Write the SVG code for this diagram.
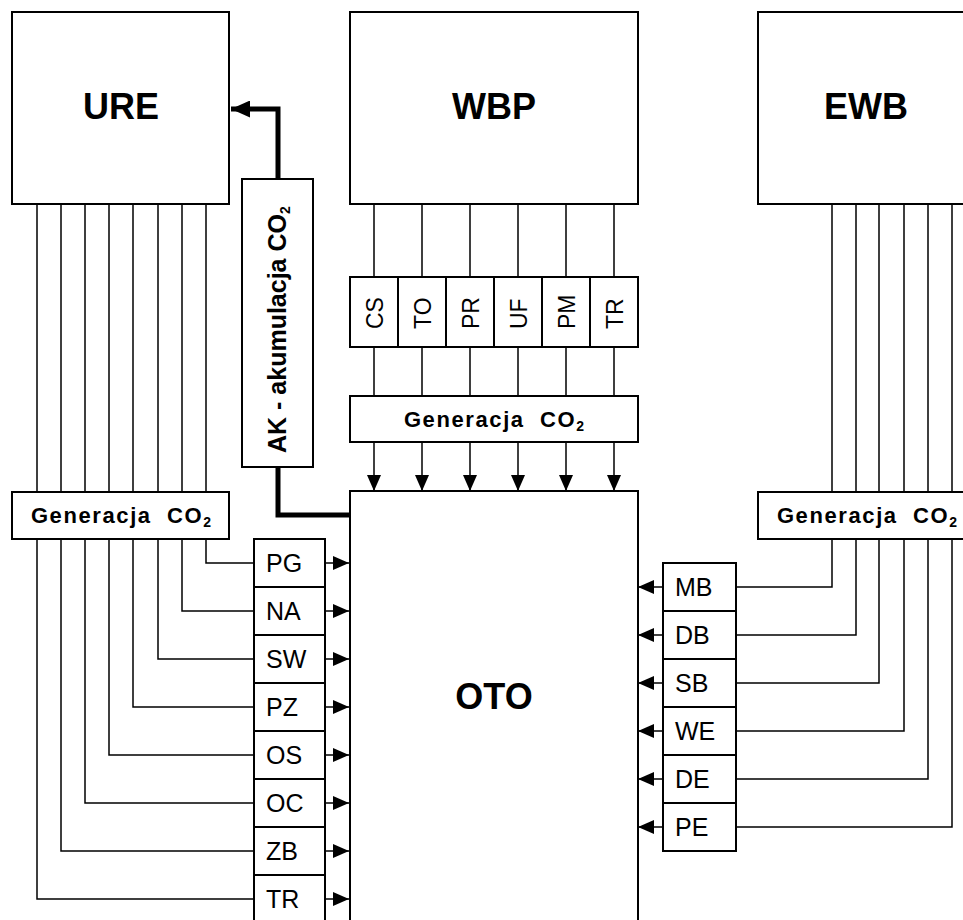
<svg xmlns="http://www.w3.org/2000/svg" width="963" height="920" viewBox="0 0 963 920">
<defs>
<style>
.box{fill:#fff;stroke:#000;stroke-width:2}
.ln{fill:none;stroke:#000;stroke-width:1.5}
.thick{fill:none;stroke:#000;stroke-width:5}
.big{font-family:"Liberation Sans",Arial,sans-serif;font-weight:bold;font-size:36px;text-anchor:middle}
.lbl{font-family:"Liberation Sans",Arial,sans-serif;font-size:25px}
.vl{font-family:"Liberation Sans",Arial,sans-serif;font-size:23px}
.gen{font-family:"Liberation Sans",Arial,sans-serif;font-weight:bold;font-size:22px;letter-spacing:1.6px;text-anchor:middle;white-space:pre}
.ak{font-family:"Liberation Sans",Arial,sans-serif;font-weight:bold;font-size:25px}
.sub{font-size:14px;letter-spacing:0}
</style>
<marker id="ah" markerUnits="userSpaceOnUse" markerWidth="16" markerHeight="14" refX="16" refY="7" orient="auto"><path d="M0,0 L16,7 L0,14 Z" fill="#000"/></marker>
<marker id="ahb" markerUnits="userSpaceOnUse" markerWidth="19" markerHeight="17" refX="19" refY="8.5" orient="auto"><path d="M0,0 L19,8.5 L0,17 Z" fill="#000"/></marker>
</defs>
<rect width="963" height="920" fill="#fff"/>

<g id="connectors">
<path class="ln" d="M37,204V492M61,204V492M85,204V492M109,204V492M133,204V492M158,204V492M182,204V492M206,204V492"/>
<path class="ln" d="M832,204V492M856,204V492M879,204V492M904,204V492M928,204V492M952,204V492"/>
<path class="ln" d="M374,204V277M422,204V277M470,204V277M518,204V277M566,204V277M614,204V277"/>
<path class="ln" d="M374,347V396M422,347V396M470,347V396M518,347V396M566,347V396M614,347V396"/>
<path class="ln" d="M374,442V491" marker-end="url(#ah)"/>
<path class="ln" d="M422,442V491" marker-end="url(#ah)"/>
<path class="ln" d="M470,442V491" marker-end="url(#ah)"/>
<path class="ln" d="M518,442V491" marker-end="url(#ah)"/>
<path class="ln" d="M566,442V491" marker-end="url(#ah)"/>
<path class="ln" d="M614,442V491" marker-end="url(#ah)"/>
<path class="ln" d="M206,539V563H254"/>
<path class="ln" d="M182,539V611H254"/>
<path class="ln" d="M158,539V659H254"/>
<path class="ln" d="M133,539V707H254"/>
<path class="ln" d="M109,539V755H254"/>
<path class="ln" d="M85,539V803H254"/>
<path class="ln" d="M61,539V851H254"/>
<path class="ln" d="M37,539V899H254"/>
<path class="ln" d="M325,563H349" marker-end="url(#ah)"/>
<path class="ln" d="M325,611H349" marker-end="url(#ah)"/>
<path class="ln" d="M325,659H349" marker-end="url(#ah)"/>
<path class="ln" d="M325,707H349" marker-end="url(#ah)"/>
<path class="ln" d="M325,755H349" marker-end="url(#ah)"/>
<path class="ln" d="M325,803H349" marker-end="url(#ah)"/>
<path class="ln" d="M325,851H349" marker-end="url(#ah)"/>
<path class="ln" d="M325,899H349" marker-end="url(#ah)"/>
<path class="ln" d="M832,539V587H736"/>
<path class="ln" d="M856,539V635H736"/>
<path class="ln" d="M879,539V683H736"/>
<path class="ln" d="M904,539V731H736"/>
<path class="ln" d="M928,539V779H736"/>
<path class="ln" d="M952,539V827H736"/>
<path class="ln" d="M663,587H638" marker-end="url(#ah)"/>
<path class="ln" d="M663,635H638" marker-end="url(#ah)"/>
<path class="ln" d="M663,683H638" marker-end="url(#ah)"/>
<path class="ln" d="M663,731H638" marker-end="url(#ah)"/>
<path class="ln" d="M663,779H638" marker-end="url(#ah)"/>
<path class="ln" d="M663,827H638" marker-end="url(#ah)"/>
<path class="thick" d="M349,515H278V467"/>
<path class="thick" d="M278,179V109H231" marker-end="url(#ahb)"/>
</g>

<g id="URE"><rect class="box" x="12" y="12" width="217" height="192"/><text class="big" x="121" y="119">URE</text></g>
<g id="WBP"><rect class="box" x="350" y="12" width="288" height="192"/><text class="big" x="494" y="119">WBP</text></g>
<g id="EWB"><rect class="box" x="758" y="12" width="217" height="192"/><text class="big" x="866" y="119">EWB</text></g>

<g id="wbp-items">
<rect class="box" x="350" y="277" width="48" height="70"/>
<rect class="box" x="398" y="277" width="48" height="70"/>
<rect class="box" x="446" y="277" width="48" height="70"/>
<rect class="box" x="494" y="277" width="48" height="70"/>
<rect class="box" x="542" y="277" width="48" height="70"/>
<rect class="box" x="590" y="277" width="48" height="70"/>
<text class="vl" transform="translate(383,329) rotate(-90)">CS</text>
<text class="vl" transform="translate(431,329) rotate(-90)">TO</text>
<text class="vl" transform="translate(479,329) rotate(-90)">PR</text>
<text class="vl" transform="translate(527,329) rotate(-90)">UF</text>
<text class="vl" transform="translate(575,329) rotate(-90)">PM</text>
<text class="vl" transform="translate(623,329) rotate(-90)">TR</text>
</g>

<g id="gen-mid"><rect class="box" x="350" y="396" width="288" height="46"/><text class="gen" x="494" y="427">Generacja  CO<tspan class="sub" dy="4">2</tspan></text></g>
<g id="gen-left"><rect class="box" x="12" y="492" width="217" height="47"/><text class="gen" x="121" y="523">Generacja  CO<tspan class="sub" dy="4">2</tspan></text></g>
<g id="gen-right"><rect class="box" x="758" y="492" width="217" height="47"/><text class="gen" x="867" y="523">Generacja  CO<tspan class="sub" dy="4">2</tspan></text></g>

<g id="AK"><rect class="box" x="242" y="179" width="71" height="288"/><text class="ak" transform="translate(286,453) rotate(-90)">AK - akumulacja CO<tspan class="sub" dy="4">2</tspan></text></g>

<g id="OTO"><rect class="box" x="350" y="491" width="288" height="440"/><text class="big" x="494" y="709">OTO</text></g>

<g id="left-items">
<rect class="box" x="254" y="539" width="71" height="48"/><text class="lbl" x="266" y="572">PG</text>
<rect class="box" x="254" y="587" width="71" height="48"/><text class="lbl" x="266" y="620">NA</text>
<rect class="box" x="254" y="635" width="71" height="48"/><text class="lbl" x="266" y="668">SW</text>
<rect class="box" x="254" y="683" width="71" height="48"/><text class="lbl" x="266" y="716">PZ</text>
<rect class="box" x="254" y="731" width="71" height="48"/><text class="lbl" x="266" y="764">OS</text>
<rect class="box" x="254" y="779" width="71" height="48"/><text class="lbl" x="266" y="812">OC</text>
<rect class="box" x="254" y="827" width="71" height="48"/><text class="lbl" x="266" y="860">ZB</text>
<rect class="box" x="254" y="875" width="71" height="60"/><text class="lbl" x="266" y="908">TR</text>
</g>

<g id="right-items">
<rect class="box" x="663" y="563" width="73" height="48"/><text class="lbl" x="675" y="596">MB</text>
<rect class="box" x="663" y="611" width="73" height="48"/><text class="lbl" x="675" y="644">DB</text>
<rect class="box" x="663" y="659" width="73" height="48"/><text class="lbl" x="675" y="692">SB</text>
<rect class="box" x="663" y="707" width="73" height="48"/><text class="lbl" x="675" y="740">WE</text>
<rect class="box" x="663" y="755" width="73" height="48"/><text class="lbl" x="675" y="788">DE</text>
<rect class="box" x="663" y="803" width="73" height="48"/><text class="lbl" x="675" y="836">PE</text>
</g>
</svg>
